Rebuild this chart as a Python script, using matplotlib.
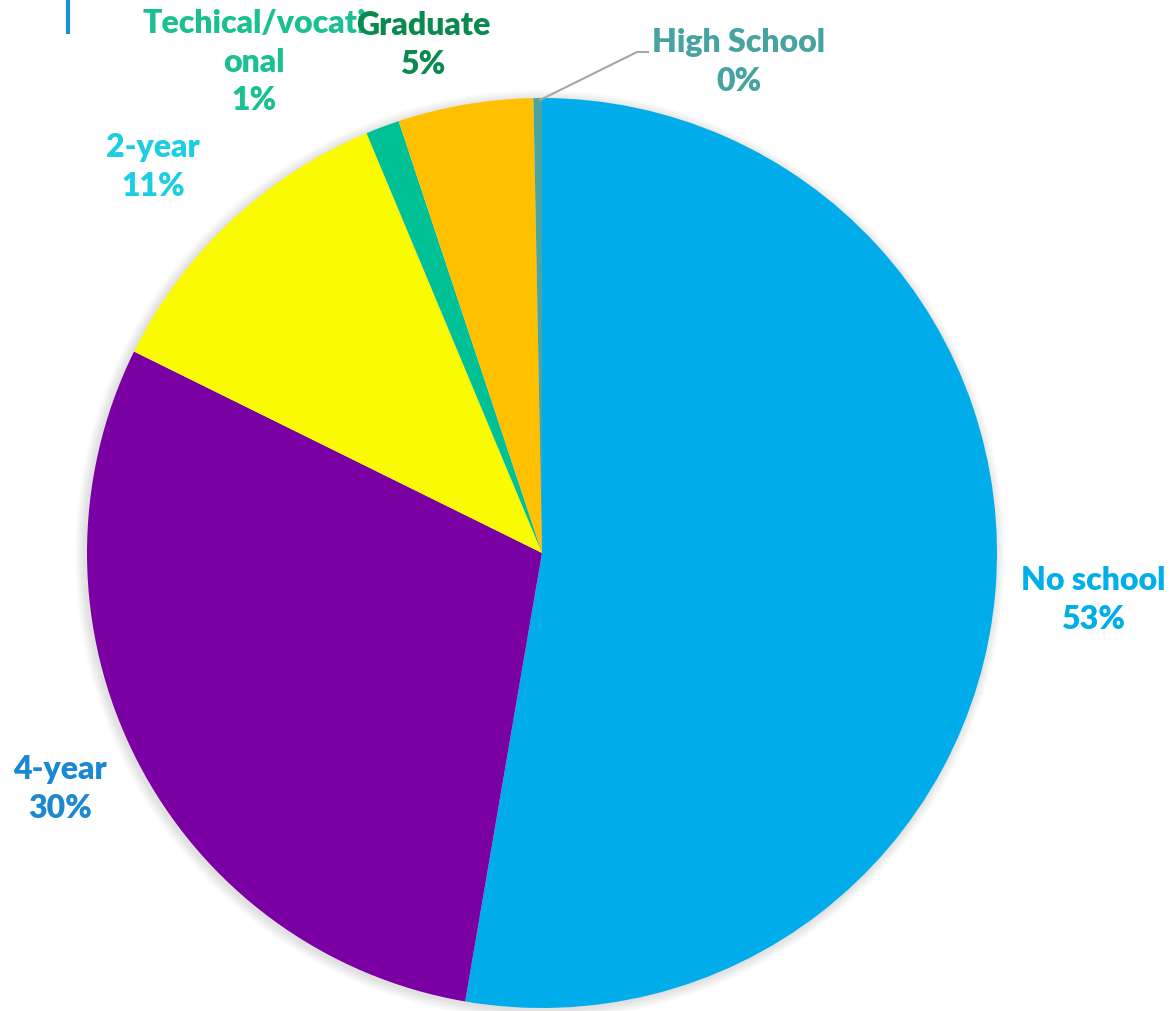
import matplotlib.pyplot as plt
from matplotlib.patches import Circle

plt.rcParams['font.family'] = ['Lato', 'DejaVu Sans']

categories = ['No school', '4-year', '2-year', 'Techical/vocational', 'Graduate', 'High School']
shares = [52.7, 29.6, 11.4, 1.2, 4.8, 0.3]
slice_colors = ['#00adea', '#7b00a4', '#fafa00', '#00c096', '#ffc000', '#4aa5a1']
label_colors = ['#00aee8', '#1b88d2', '#1ccfe0', '#1ac08f', '#0b8a4f', '#46a3a0']

# label text, wrapped the way it shows on the slide
label_lines = ['No school', '4-year', '2-year', 'Techical/vocati\nonal', 'Graduate', 'High School']

W, H = 1170, 1011
fig = plt.figure(figsize=(W / 100, H / 100), dpi=100)
ax = fig.add_axes([0, 0, 1, 1])

cx, cy, r = 542, H - 553, 455

# soft shadow round the disc
for k in range(10):
    ax.add_patch(Circle((cx - 2, cy - 2), r + 10 - k, color='black', alpha=0.012, lw=0, zorder=0))

ax.pie(shares, colors=slice_colors, startangle=90, counterclock=False,
       center=(cx, cy), radius=r, wedgeprops=dict(linewidth=0), frame=False)

# text positions (centre of each label block)
label_pos = [(1093, H - 600), (60, H - 789), (153, H - 167),
             (254, H - 62), (423, H - 45), (739, H - 62)]

order = [0, 1, 2, 3, 5, 4]  # Graduate sits on top of the technical label
for i in order:
    txt = f"{label_lines[i]}\n{round(shares[i]):.0f}%"
    ax.text(label_pos[i][0], label_pos[i][1], txt, color=label_colors[i],
            fontsize=23, fontweight='heavy', ha='center', va='center',
            linespacing=1.4, zorder=5)

# leader line for the tiny High School slice
ax.plot([540, 637, 648], [H - 100, H - 52, H - 52], color='#a6a6a6', lw=1.5, zorder=4)

# slide accent bar at top left
ax.plot([68, 68], [H, H - 32], color='#1e8fd5', lw=3, zorder=4)

ax.set_xlim(0, W)
ax.set_ylim(0, H)
ax.set_aspect('auto')
ax.axis('off')

fig.savefig('out.png', dpi=100, facecolor='white')
